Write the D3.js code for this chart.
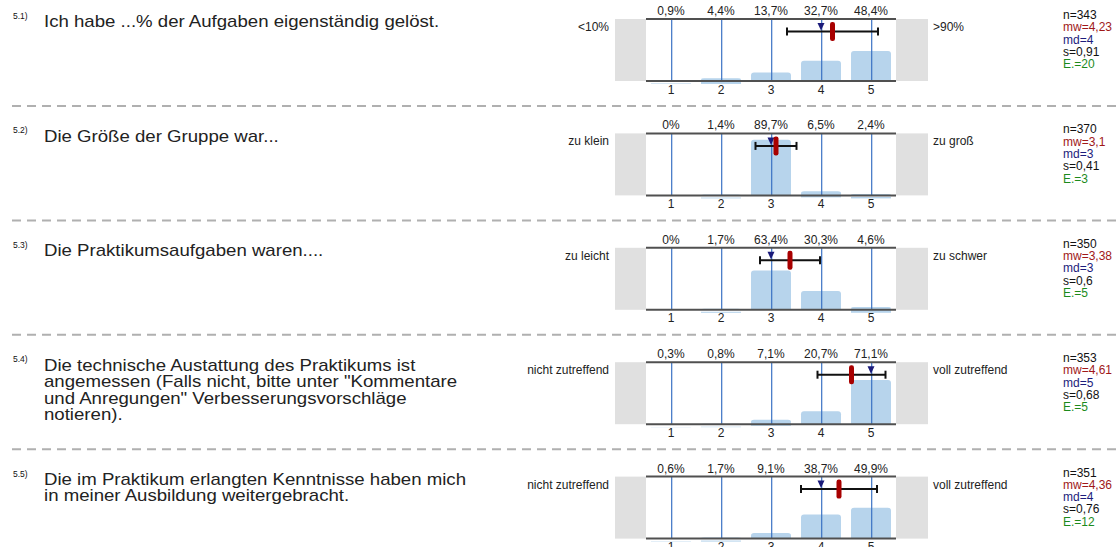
<!DOCTYPE html>
<html><head><meta charset="utf-8">
<script src="https://cdn.jsdelivr.net/npm/d3@7"></script>
<style>
html,body{margin:0;padding:0;background:#fff;}
svg{display:block;font-family:"Liberation Sans",Arial,sans-serif;}
</style></head>
<body>
<svg id="chart" width="1120" height="547"></svg>
<script>
// ---- data ----
const categories = [1, 2, 3, 4, 5];
const questionIds = ["5.1)", "5.2)", "5.3)", "5.4)", "5.5)"];
const questionTexts = [
  ["Ich habe ...% der Aufgaben eigenständig gelöst."],
  ["Die Größe der Gruppe war..."],
  ["Die Praktikumsaufgaben waren...."],
  ["Die technische Austattung des Praktikums ist", "angemessen (Falls nicht, bitte unter \"Kommentare", "und Anregungen\" Verbesserungsvorschläge", "notieren)."],
  ["Die im Praktikum erlangten Kenntnisse haben mich", "in meiner Ausbildung weitergebracht."]
];
const leftLabels = ["<10%", "zu klein", "zu leicht", "nicht zutreffend", "nicht zutreffend"];
const rightLabels = [">90%", "zu groß", "zu schwer", "voll zutreffend", "voll zutreffend"];
const percents = [
  [0.9, 4.4, 13.7, 32.7, 48.4],
  [0, 1.4, 89.7, 6.5, 2.4],
  [0, 1.7, 63.4, 30.3, 4.6],
  [0.3, 0.8, 7.1, 20.7, 71.1],
  [0.6, 1.7, 9.1, 38.7, 49.9]
];
const nValues = [343, 370, 350, 353, 351];
const meanValues = [4.23, 3.1, 3.38, 4.61, 4.36];
const medianValues = [4, 3, 3, 5, 4];
const sdValues = [0.91, 0.41, 0.6, 0.68, 0.76];
const abstValues = [20, 3, 5, 5, 12];

// ---- layout ----
const svg = d3.select("#chart");
const firstTop = 19, blockStep = 114.4, chartH = 62;
const fmt = v => String(v).replace(".", ",");

const x = d3.scaleBand().domain(categories).range([646, 896]).paddingInner(0.2).paddingOuter(0.1);
const xv = d3.scaleLinear().domain([1, 5]).range([x(1) + x.bandwidth() / 2, x(5) + x.bandwidth() / 2]);
const y = d3.scaleLinear().domain([0, 100]).range([chartH, 0]);

questionIds.forEach((qid, i) => {
  const top = firstTop + i * blockStep;
  const g = svg.append("g").attr("transform", `translate(0,${top})`);

  // question number + text
  g.append("text").attr("x", 13).attr("y", 0).attr("font-size", 8.5).attr("fill", "#111").text(qid);
  const qt = g.append("g").attr("transform", "translate(44,0) scale(1.15,1)");
  qt.selectAll("text.q").data(questionTexts[i]).join("text")
    .attr("x", 0).attr("y", (d, k) => 8.3 + k * 16.6)
    .attr("font-size", 16.2).attr("fill", "#222").text(d => d);

  // grey side frame
  g.append("rect").attr("x", 615).attr("y", 0).attr("width", 313).attr("height", chartH).attr("fill", "#e0e0e0");
  g.append("rect").attr("x", 646).attr("y", 0).attr("width", 250).attr("height", chartH).attr("fill", "#fff");

  // bars
  g.selectAll("rect.bar").data(categories).join("rect").attr("class", "bar")
    .attr("x", c => x(c)).attr("width", x.bandwidth())
    .attr("y", (c, k) => y(percents[i][k]))
    .attr("height", (c, k) => chartH - y(percents[i][k]))
    .attr("rx", 3).attr("fill", "#b7d4ec");
  g.selectAll("rect.barb").data(categories).join("rect").attr("class", "barb")
    .attr("x", c => x(c)).attr("width", x.bandwidth())
    .attr("y", (c, k) => Math.max(y(percents[i][k]) + 3, chartH - 3))
    .attr("height", (c, k) => percents[i][k] > 0 ? Math.min(3, chartH - y(percents[i][k])) : 0)
    .attr("fill", "#b7d4ec");

  // vertical blue lines
  g.selectAll("line.v").data(categories).join("line")
    .attr("x1", c => xv(c) + 0.7).attr("x2", c => xv(c) + 0.7).attr("y1", 0).attr("y2", chartH)
    .attr("stroke", "#3a72c4").attr("stroke-width", 1.2);

  // top/bottom lines
  g.append("line").attr("x1", 646).attr("x2", 896).attr("y1", 0).attr("y2", 0).attr("stroke", "#505050").attr("stroke-width", 2);
  g.append("line").attr("x1", 646).attr("x2", 896).attr("y1", chartH).attr("y2", chartH).attr("stroke", "#505050").attr("stroke-width", 2);

  // percent labels
  g.selectAll("text.p").data(categories).join("text")
    .attr("x", c => xv(c)).attr("y", -4).attr("text-anchor", "middle")
    .attr("font-size", 12).attr("fill", "#222").text((c, k) => fmt(percents[i][k]) + "%");

  // bottom axis
  const ax = g.append("g").attr("transform", `translate(0,${chartH})`)
    .call(d3.axisBottom(x).tickSize(0).tickPadding(4));
  ax.select(".domain").remove();
  ax.selectAll("text").attr("font-size", 12).attr("fill", "#222").attr("font-family", "Liberation Sans, Arial, sans-serif");

  // side labels
  g.append("text").attr("x", 609).attr("y", 12).attr("text-anchor", "end").attr("font-size", 12).attr("fill", "#222").text(leftLabels[i]);
  g.append("text").attr("x", 933).attr("y", 12).attr("font-size", 12).attr("fill", "#222").text(rightLabels[i]);

  // error bar (mean ± sd)
  const ey = 12.5;
  const lo = xv(meanValues[i] - sdValues[i]), hi = xv(meanValues[i] + sdValues[i]);
  g.append("line").attr("x1", lo).attr("x2", hi).attr("y1", ey).attr("y2", ey).attr("stroke", "#111").attr("stroke-width", 2);
  [lo, hi].forEach(px => g.append("line").attr("x1", px).attr("x2", px).attr("y1", ey - 4).attr("y2", ey + 4).attr("stroke", "#111").attr("stroke-width", 2));

  // median triangle
  const mx = xv(medianValues[i]);
  g.append("path").attr("d", `M${mx - 3.5},${4}L${mx + 3.5},${4}L${mx},${ey - 1}Z`).attr("fill", "#1a1a7a");

  // mean marker
  const mm = xv(meanValues[i]);
  g.append("rect").attr("x", mm - 2.5).attr("y", ey - 9.5).attr("width", 5).attr("height", 19).attr("rx", 2.2).attr("fill", "#a80000");

  // stats
  const stats = [
    ["n=" + nValues[i], "#111"],
    ["mw=" + fmt(meanValues[i]), "#a01818"],
    ["md=" + fmt(medianValues[i]), "#1c1c7c"],
    ["s=" + fmt(sdValues[i]), "#111"],
    ["E.=" + abstValues[i], "#1c8a1c"]
  ];
  g.selectAll("text.s").data(stats).join("text")
    .attr("x", 1063).attr("y", (d, k) => 0 + k * 12.3)
    .attr("font-size", 12).attr("fill", d => d[1]).text(d => d[0]);

  // separator
  if (i < questionIds.length - 1) {
    g.append("line").attr("x1", 12).attr("x2", 1120).attr("y1", 87).attr("y2", 87)
      .attr("stroke", "#b0b0b0").attr("stroke-width", 2).attr("stroke-dasharray", "9,6");
  }
});
</script>
</body></html>
